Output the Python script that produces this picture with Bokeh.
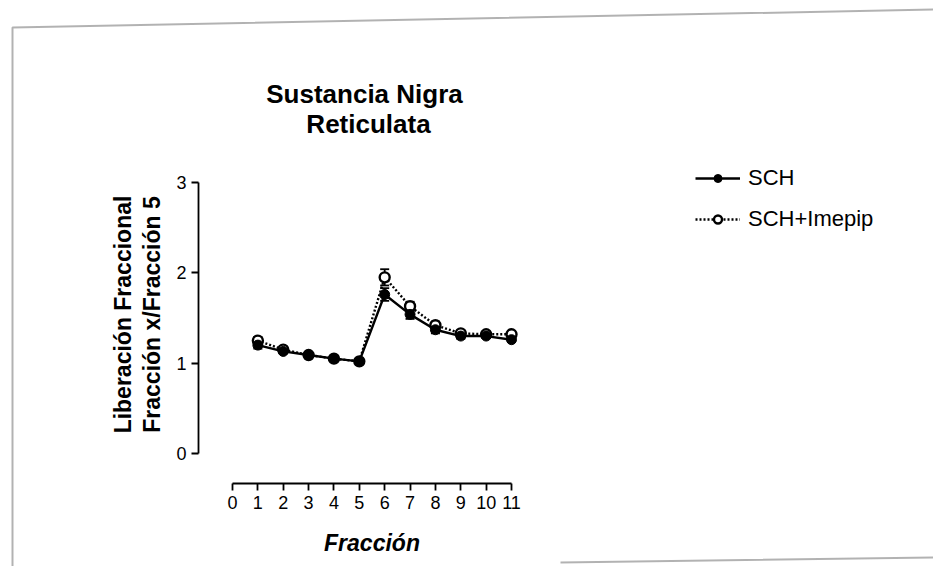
import math
from bokeh.plotting import figure
from bokeh.models import (Range1d, FixedTicker, Label, Legend, LegendItem, Whisker,
                          ColumnDataSource, TeeHead, PolyAnnotation)
from bokeh.embed import file_html
from bokeh.resources import INLINE

# ---- data ----
fraccion = [1, 2, 3, 4, 5, 6, 7, 8, 9, 10, 11]
sch = [1.20, 1.13, 1.09, 1.05, 1.02, 1.76, 1.54, 1.37, 1.30, 1.30, 1.26]
sch_err = [0.04, 0.02, 0.02, 0.02, 0.02, 0.07, 0.05, 0.04, 0.03, 0.02, 0.02]
imepip = [1.25, 1.15, 1.09, 1.05, 1.02, 1.95, 1.63, 1.42, 1.33, 1.32, 1.32]
imepip_err = [0.04, 0.02, 0.02, 0.02, 0.02, 0.09, 0.05, 0.04, 0.03, 0.03, 0.02]
x_ticks = [0, 1, 2, 3, 4, 5, 6, 7, 8, 9, 10, 11]
y_ticks = [0, 1, 2, 3]

title_lines = ["Sustancia Nigra", "Reticulata"]
ylabel_lines = ["Liberación Fraccional", "Fracción x/Fracción 5"]
xlabel = "Fracción"
series_names = ["SCH", "SCH+Imepip"]

FONT = "Liberation Sans"

W, H = 933, 566
# pixel geometry of the plot (canvas px, from top-left)
X0_PX, X11_PX = 232.0, 511.0      # x = 0 and x = 11
Y3_PX, Y0_PX = 182.0, 453.0       # y = 3 and y = 0
kx = (X11_PX - X0_PX) / 11.0
ky = (Y0_PX - Y3_PX) / 3.0
x_start, x_end = -X0_PX / kx, (W - X0_PX) / kx
y_start, y_end = -(H - Y0_PX) / ky, Y0_PX / ky
YAXIS_PX, XAXIS_PX = 198.0, 483.0


def sx(px):
    return px


def sy(py):
    return H - py


p = figure(width=W, height=H, output_backend="svg", toolbar_location=None,
           x_range=Range1d(x_start, x_end), y_range=Range1d(y_start, y_end),
           min_border=0, background_fill_color="white", border_fill_color="white")
p.outline_line_color = None
p.xgrid.visible = False
p.ygrid.visible = False

p.xaxis.fixed_location = -(XAXIS_PX - Y0_PX) / ky
p.yaxis.fixed_location = (YAXIS_PX - X0_PX) / kx

for ax, ticks, bnds in ((p.xaxis[0], x_ticks, (0, 11)), (p.yaxis[0], y_ticks, (0, 3))):
    ax.ticker = FixedTicker(ticks=ticks)
    ax.bounds = bnds
    ax.axis_line_width = 1.8
    ax.axis_line_color = "black"
    ax.major_tick_line_width = 1.8
    ax.major_tick_line_color = "black"
    ax.major_tick_out = 7
    ax.major_tick_in = 0
    ax.minor_tick_line_color = None
    ax.major_label_text_font = FONT
    ax.major_label_text_font_size = "18px"
    ax.major_label_text_color = "black"
    ax.major_label_standoff = 5

src1 = ColumnDataSource(dict(x=fraccion, y=sch, lo=[a - b for a, b in zip(sch, sch_err)],
                             hi=[a + b for a, b in zip(sch, sch_err)]))
src2 = ColumnDataSource(dict(x=fraccion, y=imepip, lo=[a - b for a, b in zip(imepip, imepip_err)],
                             hi=[a + b for a, b in zip(imepip, imepip_err)]))

for src in (src2, src1):
    w = Whisker(source=src, base="x", lower="lo", upper="hi", line_color="black",
                line_width=1.8,
                upper_head=TeeHead(size=9, line_width=1.8, line_color="black"),
                lower_head=TeeHead(size=9, line_width=1.8, line_color="black"))
    p.add_layout(w)

l2 = p.line("x", "y", source=src2, line_color="black", line_width=2.4, line_dash="2 2")
m2 = p.scatter("x", "y", source=src2, size=10, marker="circle", fill_color="white",
               line_color="black", line_width=2.4)
l1 = p.line("x", "y", source=src1, line_color="black", line_width=2.4)
m1 = p.scatter("x", "y", source=src1, size=10, marker="circle", fill_color="black",
               line_color="black", line_width=1)

legend = Legend(items=[LegendItem(label=series_names[0], renderers=[l1, m1]),
                       LegendItem(label=series_names[1], renderers=[l2, m2])],
                location=(sx(695), sy(232)), orientation="vertical",
                glyph_width=45, glyph_height=20, label_height=20, label_standoff=8,
                spacing=15, padding=0, margin=0, border_line_color=None,
                background_fill_alpha=0,
                label_text_font=FONT, label_text_font_size="22px",
                label_text_color="black")
p.add_layout(legend, "center")

for txt, cx, cy in ((title_lines[0], 364, 93), (title_lines[1], 368, 123)):
    p.add_layout(Label(x=sx(cx), y=sy(cy), x_units="screen", y_units="screen", text=txt,
                       text_font=FONT, text_font_size="26px", text_font_style="bold",
                       text_align="center", text_baseline="middle", text_color="black"))

for txt, cx in ((ylabel_lines[0], 122), (ylabel_lines[1], 151)):
    p.add_layout(Label(x=sx(cx), y=sy(314), x_units="screen", y_units="screen", text=txt,
                       angle=math.pi / 2, text_font=FONT, text_font_size="23px",
                       text_font_style="bold", text_align="center",
                       text_baseline="middle", text_color="black"))

p.add_layout(Label(x=5.5, y=sy(542), x_units="data", y_units="screen", text=xlabel,
                   text_font=FONT, text_font_size="23px", text_font_style="bold italic",
                   text_align="center", text_baseline="middle", text_color="black"))

# scanned page border
bx = [12, 12, 935, 12]
by = [566, 27, 9, 27]
p.add_layout(PolyAnnotation(xs=[sx(a) for a in bx], ys=[sy(b) for b in by],
                            xs_units="screen", ys_units="screen",
                            fill_alpha=0, line_color="black", line_width=2))
bx2 = [560, 935, 560]
by2 = [562, 557, 562]
p.add_layout(PolyAnnotation(xs=[sx(a) for a in bx2], ys=[sy(b) for b in by2],
                            xs_units="screen", ys_units="screen",
                            fill_alpha=0, line_color="black", line_width=2))

open("out.html", "w").write(file_html(p, INLINE))
